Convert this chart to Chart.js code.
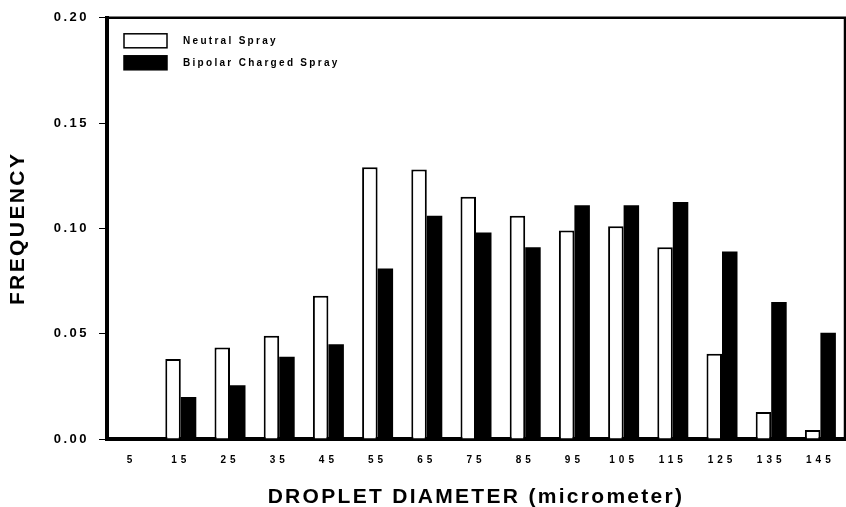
<!DOCTYPE html>
<html>
<head>
<meta charset="utf-8">
<script src="https://cdn.jsdelivr.net/npm/chart.js@4/dist/chart.umd.min.js"></script>
<style>
html,body{margin:0;padding:0;background:#fff;}
#wrap{width:846px;height:507px;}
</style>
</head>
<body>
<div id="wrap"><canvas id="c" width="846" height="507"></canvas></div>
<script>
const categories = ['5','15','25','35','45','55','65','75','85','95','105','115','125','135','145'];
const neutralSpray = [0, 0.038, 0.0435, 0.049, 0.068, 0.129, 0.128, 0.115, 0.106, 0.099, 0.101, 0.091, 0.0405, 0.0128, 0.0043];
const bipolarSpray = [0, 0.020, 0.0255, 0.039, 0.045, 0.081, 0.106, 0.098, 0.091, 0.111, 0.111, 0.1125, 0.089, 0.065, 0.0505];
const yTicks = [0, 0.05, 0.10, 0.15, 0.20];
const seriesNames = ['Neutral Spray', 'Bipolar Charged Spray'];

const FONT = "'Liberation Sans', Arial, Helvetica, sans-serif";

function wrapSpacing(scale, method, spacing) {
  if (scale[method]._wrapped) return;
  const orig = scale[method];
  const fn = function (...args) {
    const ctx = this.ctx;
    const prev = ctx.letterSpacing;
    ctx.letterSpacing = spacing;
    orig.apply(this, args);
    ctx.letterSpacing = prev;
  };
  fn._wrapped = true;
  scale[method] = fn;
}

const spacingPlugin = {
  id: 'spacingPlugin',
  beforeDraw(chart) {
    wrapSpacing(chart.scales.x, 'drawTitle', '2.3px');
    wrapSpacing(chart.scales.x, 'drawLabels', '4px');
    wrapSpacing(chart.scales.y, 'drawTitle', '2.4px');
    wrapSpacing(chart.scales.y, 'drawLabels', '2.5px');
  }
};

const frameAndLegend = {
  id: 'frameAndLegend',
  afterDraw(chart) {
    const ctx = chart.ctx;
    const a = chart.chartArea;
    ctx.save();
    ctx.strokeStyle = '#000';
    ctx.lineWidth = 2.5;
    ctx.beginPath();
    ctx.moveTo(a.left, a.top);
    ctx.lineTo(a.right, a.top);
    ctx.lineTo(a.right, a.bottom);
    ctx.stroke();
    // legend
    const ds = chart.data.datasets;
    ctx.font = "bold 10px " + FONT;
    ctx.letterSpacing = '2.3px';
    ctx.textBaseline = 'middle';
    ds.forEach((d, i) => {
      const x = a.left + 17, y = a.top + 16 + i * 22;
      ctx.fillStyle = d.backgroundColor;
      ctx.fillRect(x, y, 43, 14);
      ctx.lineWidth = 1.5;
      ctx.strokeStyle = '#000';
      ctx.strokeRect(x, y, 43, 14);
      ctx.fillStyle = '#000';
      ctx.fillText(d.label, x + 59, y + 7);
    });
    ctx.restore();
  }
};

new Chart(document.getElementById('c'), {
  type: 'bar',
  data: {
    labels: categories,
    datasets: [
      { label: seriesNames[0], data: neutralSpray, backgroundColor: '#ffffff', borderColor: '#000', borderWidth: 2 },
      { label: seriesNames[1], data: bipolarSpray, backgroundColor: '#000000', borderColor: '#000', borderWidth: 0 }
    ]
  },
  options: {
    responsive: false,
    animation: false,
    devicePixelRatio: 1,
    layout: { padding: { top: 16, right: 1, left: 0, bottom: 0 } },
    datasets: { bar: { categoryPercentage: 0.63, barPercentage: 1 } },
    plugins: {
      legend: { display: false },
      tooltip: { enabled: false }
    },
    scales: {
      x: {
        grid: { display: false, drawTicks: false },
        border: { display: true, color: '#000', width: 4 },
        ticks: { color: '#000', font: { family: FONT, weight: 'bold', size: 10 }, padding: 15, maxRotation: 0 },
        title: { display: true, text: 'DROPLET DIAMETER (micrometer)', color: '#000', font: { family: FONT, weight: 'bold', size: 21, lineHeight: 0.9 }, padding: { top: 4, bottom: 0 } },
        afterFit(s) { s.height = 68; }
      },
      y: {
        min: 0, max: 0.2,
        afterBuildTicks(s) { s.ticks = yTicks.map(v => ({ value: v })); },
        grid: { drawOnChartArea: false, drawTicks: true, tickLength: 8, color: '#000', tickWidth: 1 },
        border: { display: true, color: '#000', width: 4 },
        ticks: { color: '#000', font: { family: FONT, weight: 'bold', size: 13 }, padding: 10, callback: v => v.toFixed(2) },
        title: { display: true, text: 'FREQUENCY', color: '#000', font: { family: FONT, weight: 'bold', size: 21, lineHeight: 0.9 }, padding: { top: 9, bottom: 0 } },
        afterFit(s) { s.width = 107; }
      }
    }
  },
  plugins: [spacingPlugin, frameAndLegend]
});
</script>
</body>
</html>
